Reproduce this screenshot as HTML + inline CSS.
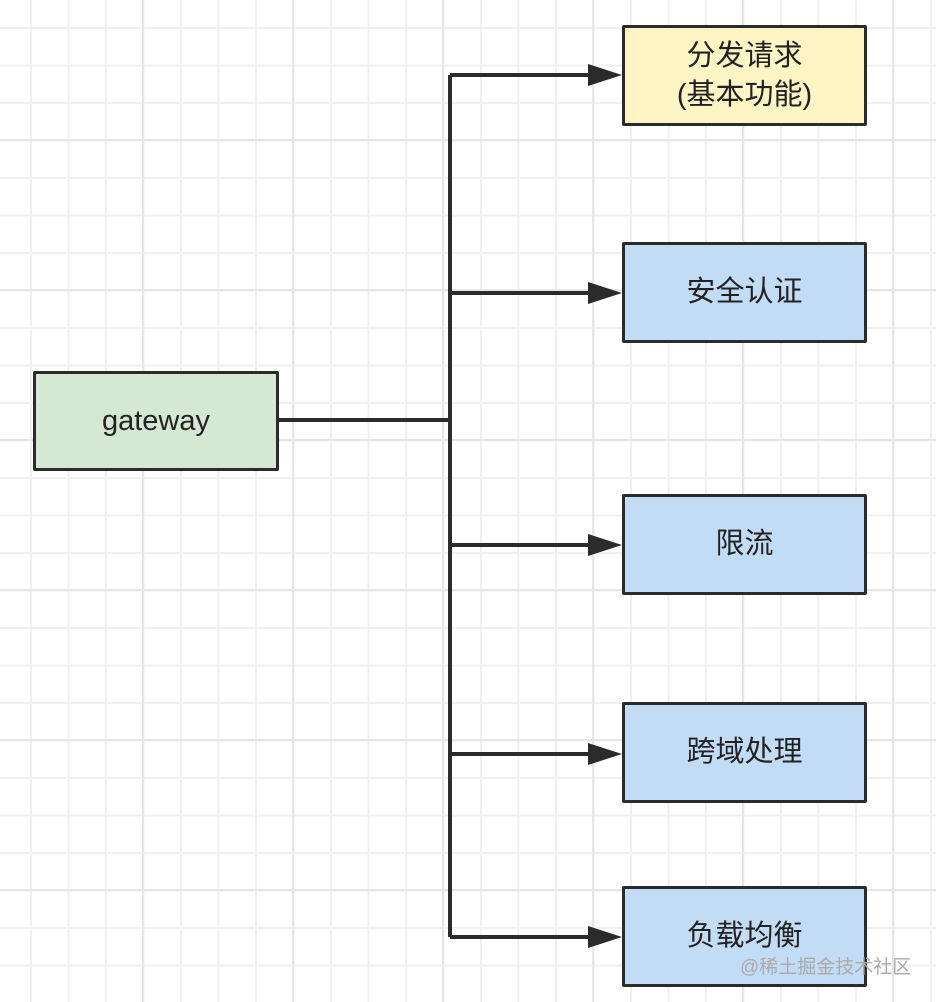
<!DOCTYPE html>
<html><head><meta charset="utf-8"><style>
body{margin:0;width:936px;height:1002px;overflow:hidden;background:#fff;font-family:"Liberation Sans","Noto Sans CJK SC",sans-serif}
.bg{position:absolute;left:0;top:0;width:936px;height:1002px;
background-image:
linear-gradient(to right,#e6e6e6 0 2px,transparent 2px),
linear-gradient(to bottom,#e6e6e6 0 2px,transparent 2px),
linear-gradient(to right,#f0f0f0 0 2px,transparent 2px),
linear-gradient(to bottom,#f0f0f0 0 2px,transparent 2px);
background-size:150px 150px,150px 150px,37.5px 37.5px,37.5px 37.5px;
background-position:142px 139px,142px 139px,30px 27px,30px 27px}
.b{position:absolute;box-sizing:border-box;border:3px solid #2b2b2b;border-radius:2px;display:flex;align-items:center;justify-content:center;text-align:center;font-size:29px;color:#222;line-height:39px}
.y{background:#fff4c4}.bl{background:#c3dcf5}.g{background:#d5e8d4}
svg{position:absolute;left:0;top:0}
.wm{position:absolute;left:740px;top:952px;font-size:19px;color:#aaa}
</style></head><body>
<div class="bg"></div>
<svg width="936" height="1002">
<g stroke="#2b2b2b" stroke-width="4" fill="none">
<line x1="278" y1="420" x2="450" y2="420"/>
<line x1="450" y1="75" x2="450" y2="937"/>
<line x1="450" y1="75" x2="592" y2="75"/>
<line x1="450" y1="293" x2="592" y2="293"/>
<line x1="450" y1="545" x2="592" y2="545"/>
<line x1="450" y1="754" x2="592" y2="754"/>
<line x1="450" y1="937" x2="592" y2="937"/>
</g>
<g fill="#2b2b2b">
<polygon points="588,64 622,75 588,86"/>
<polygon points="588,282 622,293 588,304"/>
<polygon points="588,534 622,545 588,556"/>
<polygon points="588,743 622,754 588,765"/>
<polygon points="588,926 622,937 588,948"/>
</g>
</svg>
<div class="b g" style="left:33px;top:371px;width:246px;height:100px">gateway</div>
<div class="b y" style="left:622px;top:25px;width:245px;height:101px">分发请求<br>(基本功能)</div>
<div class="b bl" style="left:622px;top:242px;width:245px;height:101px">安全认证</div>
<div class="b bl" style="left:622px;top:494px;width:245px;height:101px">限流</div>
<div class="b bl" style="left:622px;top:702px;width:245px;height:101px">跨域处理</div>
<div class="b bl" style="left:622px;top:886px;width:245px;height:101px">负载均衡</div>
<div class="wm">@稀土掘金技术社区</div>
</body></html>
